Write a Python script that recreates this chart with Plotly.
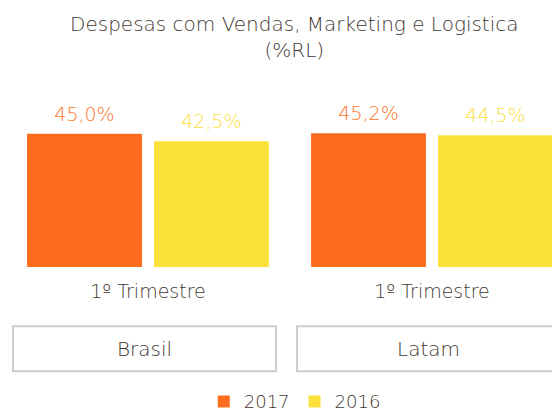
import plotly.graph_objects as go

regions = ["Brasil", "Latam"]
period_labels = ["1º Trimestre", "1º Trimestre"]
series_names = ["2017", "2016"]
values_2017 = [45.0, 45.2]
values_2016 = [42.5, 44.5]

title_text = "Despesas com Vendas, Marketing e Logistica<br>(%RL)"

orange = "#FF6C1F"
yellow = "#FDE13B"
label_colors = ["#FF7429", "#FDDD40"]
text_color = "#43362F"
font_family = "'DejaVu Sans', sans-serif"
weight = 200

xpos = list(range(len(regions)))
series_values = [values_2017, values_2016]
bar_colors = [orange, yellow]

fig = go.Figure()
for k, (name, vals, col) in enumerate(zip(series_names, series_values, bar_colors)):
    fig.add_trace(go.Bar(
        x=xpos, y=vals, name=name, offsetgroup=str(k),
        marker=dict(color=col, line=dict(width=0)),
        hoverinfo="skip",
    ))
for k, (name, vals, col) in enumerate(zip(series_names, series_values, label_colors)):
    fig.add_trace(go.Scatter(
        x=xpos, y=vals, name=name, offsetgroup=str(k), showlegend=False,
        mode="markers+text", marker=dict(size=12, opacity=0),
        texttemplate="%{y:.1f}%", textposition="top center",
        textfont=dict(color=col, size=19, family=font_family, weight=weight),
        cliponaxis=False, hoverinfo="skip",
    ))

shapes = []
annotations = []
for i, r in enumerate(regions):
    shapes.append(dict(
        type="rect", xref="x", yref="paper",
        x0=i - 0.475, x1=i + 0.451, y0=-0.704, y1=-0.40,
        line=dict(color="#CDCDCD", width=2), fillcolor="rgba(0,0,0,0)",
    ))
    annotations.append(dict(
        x=i - 0.012, y=-0.552, xref="x", yref="paper", text=r,
        showarrow=False, xanchor="center", yanchor="middle",
        font=dict(size=20, color=text_color, family=font_family, weight=weight),
    ))

annotations.append(dict(
    x=0.534, y=1.554, xref="paper", yref="paper", text=title_text,
    showarrow=False, xanchor="center", yanchor="middle", align="center",
    font=dict(size=20, color=text_color, family=font_family, weight=weight),
))

fig.update_layout(
    width=552, height=412,
    margin=dict(l=0, r=0, t=119, b=145),
    paper_bgcolor="white", plot_bgcolor="white",
    separators=",.",
    barmode="group", bargap=0.106, bargroupgap=0.095,
    scattermode="group",
    xaxis=dict(
        range=[-0.521, 1.4225], tickmode="array", tickvals=xpos,
        ticktext=period_labels, showgrid=False, zeroline=False,
        showline=False, ticks="outside", ticklen=7,
        tickcolor="rgba(0,0,0,0)",
        tickfont=dict(size=19, color=text_color, family=font_family, weight=weight),
    ),
    yaxis=dict(range=[0, 50], visible=False),
    showlegend=True,
    legend=dict(
        orientation="h", x=0.534, xanchor="center",
        yref="container", y=0.025, yanchor="middle",
        font=dict(size=18, color=text_color, family=font_family, weight=weight),
    ),
    shapes=shapes, annotations=annotations,
)

fig.write_html(
    "out.html",
    config={"displayModeBar": False},
    post_script="document.body.style.margin='0';",
)
